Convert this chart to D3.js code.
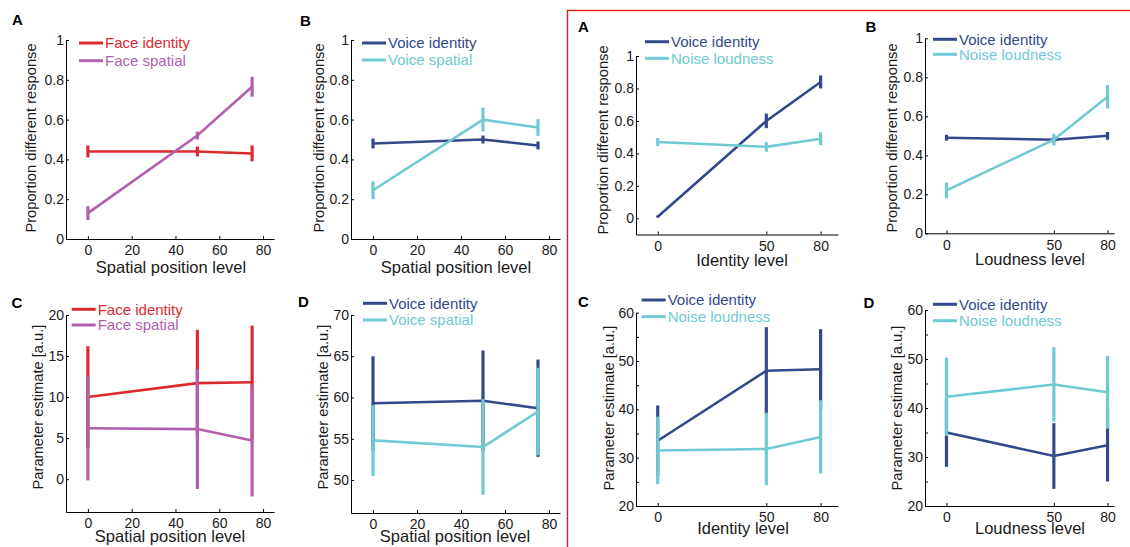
<!DOCTYPE html>
<html>
<head>
<meta charset="utf-8">
<script src="https://cdn.jsdelivr.net/npm/d3@7"></script>
<style>
  body { margin: 0; background: #fff; }
  svg { display: block; font-family: "Liberation Sans", Arial, sans-serif; }
</style>
</head>
<body>
<svg id="chart" width="1130" height="547"></svg>
<script>
// x levels
const spatialLevels = [0, 50, 75]
const spatialTicks = [0, 20, 40, 60, 80]
const stimLevels = [0, 50, 75] // plotted positions of the three levels
const stimTickLabels = ['0', '50', '80']
const propTicks = [0, 0.2, 0.4, 0.6, 0.8, 1]

// left A: faces, proportion "different"
const faceIdentityProp = [0.44, 0.44, 0.43]
const faceIdentityPropErr = [0.03, 0.025, 0.04]
const faceSpatialProp = [0.13, 0.52, 0.765]
const faceSpatialPropErr = [0.035, 0.02, 0.05]

// left B: voices, proportion "different"
const voiceIdentityProp = [0.48, 0.50, 0.47]
const voiceIdentityPropErr = [0.025, 0.02, 0.02]
const voiceSpatialProp = [0.245, 0.60, 0.56]
const voiceSpatialPropErr = [0.045, 0.06, 0.042]

// left C: faces, parameter estimates
const faceIdentityPE = [10.0, 11.7, 11.8]
const faceIdentityPEErr = [6.2, 6.5, 6.9]
const faceSpatialPE = [6.2, 6.1, 4.7]
const faceSpatialPEErr = [6.35, 7.3, 6.8]

// left D: voices, parameter estimates
const voiceIdentityPE = [59.3, 59.6, 58.7]
const voiceIdentityPEErr = [5.7, 6.1, 5.9]
const voiceSpatialPE = [54.8, 54.0, 58.3]
const voiceSpatialPEErr = [4.3, 5.8, 5.3]

// right A: identity levels
const idVoiceProp = [0.01, 0.60, 0.84]
const idVoicePropErr = [0.006, 0.045, 0.04]
const idNoiseProp = [0.47, 0.44, 0.49]
const idNoisePropErr = [0.025, 0.03, 0.04]

// right B: loudness levels
const loudVoiceProp = [0.49, 0.48, 0.50]
const loudVoicePropErr = [0.015, 0.015, 0.02]
const loudNoiseProp = [0.22, 0.48, 0.70]
const loudNoisePropErr = [0.04, 0.03, 0.06]

// right C: identity levels, parameter estimates
const idVoicePE = [33.5, 48.0, 48.3]
const idVoicePEErr = [7.3, 9.0, 8.3]
const idNoisePE = [31.5, 31.8, 34.3]
const idNoisePEErr = [7.0, 7.5, 7.6]

// right D: loudness levels, parameter estimates
const loudVoicePE = [35.0, 30.2, 32.4]
const loudVoicePEErr = [7.0, 6.7, 7.4]
const loudNoisePE = [42.3, 44.8, 43.2]
const loudNoisePEErr = [8.0, 7.6, 7.4]

const RED = '#dc2b30'
const PURPLE = '#b25fae'
const NAVY = '#34498b'
const CYAN = '#6fcad2'

const spatialX = { xDomain: [-10, 85], xTicks: spatialTicks, xFmt: d => d, xLabel: 'Spatial position level' }
const idX = { xDomain: [-10, 83], xTicks: stimLevels, xFmt: (d, i) => stimTickLabels[i], xLabel: 'Identity level' }
const loudX = { xDomain: [-10, 78], xTicks: stimLevels, xFmt: (d, i) => stimTickLabels[i], xLabel: 'Loudness level' }
const propY = { yTicks: propTicks, yLabel: 'Proportion different response' }
const peY = { yLabel: 'Parameter estimate [a.u.]' }

const ser = (name, color, x, y, err) => ({ name, color, x, y, err })

const panels = [
  {
    ...spatialX, ...propY, letter: 'A', letterPos: [12, 25],
    xRange: [66, 274], yRange: [239, 40], yDomain: [0, 1],
    xLabelPos: [171, 272.5], yLabelPos: [31, 138], legend: [79, 43, 17.7],
    series: [
      ser('Face identity', RED, spatialLevels, faceIdentityProp, faceIdentityPropErr),
      ser('Face spatial', PURPLE, spatialLevels, faceSpatialProp, faceSpatialPropErr)
    ]
  },
  {
    ...spatialX, ...propY, letter: 'B', letterPos: [300, 26],
    xRange: [351, 560], yRange: [239, 40], yDomain: [0, 1],
    xLabelPos: [456, 272.5], yLabelPos: [319, 138], legend: [362, 43, 17],
    series: [
      ser('Voice identity', NAVY, spatialLevels, voiceIdentityProp, voiceIdentityPropErr),
      ser('Voice spatial', CYAN, spatialLevels, voiceSpatialProp, voiceSpatialPropErr)
    ]
  },
  {
    ...idX, ...propY, letter: 'A', letterPos: [578, 31.5],
    xRange: [636, 838], yRange: [234.5, 56], yDomain: [-0.1, 1],
    xLabelPos: [742, 266], yLabelPos: [603, 140], legend: [645, 41.7, 16.6],
    series: [
      ser('Voice identity', NAVY, stimLevels, idVoiceProp, idVoicePropErr),
      ser('Noise loudness', CYAN, stimLevels, idNoiseProp, idNoisePropErr)
    ]
  },
  {
    ...loudX, ...propY, letter: 'B', letterPos: [865.5, 31.5],
    xRange: [925, 1114], yRange: [233.3, 38.3], yDomain: [0, 1],
    xLabelPos: [1030, 265], yLabelPos: [892, 138], legend: [933, 39.3, 15],
    series: [
      ser('Voice identity', NAVY, stimLevels, loudVoiceProp, loudVoicePropErr),
      ser('Noise loudness', CYAN, stimLevels, loudNoiseProp, loudNoisePropErr)
    ]
  },
  {
    ...spatialX, ...peY, letter: 'C', letterPos: [11.5, 308],
    xRange: [66, 274], yRange: [512, 315], yDomain: [-4, 20], yTicks: [0, 5, 10, 15, 20],
    xLabelPos: [170, 542], yLabelPos: [37.5, 407], legend: [71.7, 309.3, 15.7],
    series: [
      ser('Face identity', RED, spatialLevels, faceIdentityPE, faceIdentityPEErr),
      ser('Face spatial', PURPLE, spatialLevels, faceSpatialPE, faceSpatialPEErr)
    ]
  },
  {
    ...spatialX, ...peY, letter: 'D', letterPos: [298, 307],
    xRange: [351, 560], yRange: [513, 315], yDomain: [46, 70], yTicks: [50, 55, 60, 65, 70],
    xLabelPos: [455, 542], yLabelPos: [322.7, 407], legend: [363, 303.3, 16.7],
    series: [
      ser('Voice identity', NAVY, spatialLevels, voiceIdentityPE, voiceIdentityPEErr),
      ser('Voice spatial', CYAN, spatialLevels, voiceSpatialPE, voiceSpatialPEErr)
    ]
  },
  {
    ...idX, ...peY, letter: 'C', letterPos: [578, 307],
    xRange: [636, 838], yRange: [506, 312.7], yDomain: [20, 60], yTicks: [20, 30, 40, 50, 60],
    minorTicks: [25, 35, 45, 55],
    xLabelPos: [743, 533.5], yLabelPos: [608.7, 408], legend: [641.7, 300, 16.7],
    series: [
      ser('Voice identity', NAVY, stimLevels, idVoicePE, idVoicePEErr),
      ser('Noise loudness', CYAN, stimLevels, idNoisePE, idNoisePEErr)
    ]
  },
  {
    ...loudX, ...peY, letter: 'D', letterPos: [863.5, 308],
    xRange: [925, 1114], yRange: [506, 310], yDomain: [20, 60], yTicks: [20, 30, 40, 50, 60],
    minorTicks: [25, 35, 45, 55],
    xLabelPos: [1030, 534], yLabelPos: [897, 408], legend: [933, 304.3, 16.4],
    series: [
      ser('Voice identity', NAVY, stimLevels, loudVoicePE, loudVoicePEErr),
      ser('Noise loudness', CYAN, stimLevels, loudNoisePE, loudNoisePEErr)
    ]
  }
]

const svg = d3.select('#chart')

svg.append('rect')
  .attr('width', 1130).attr('height', 547)
  .attr('fill', '#fff')

// red frame round the right half
svg.append('rect')
  .attr('x', 567.5).attr('y', 10.5)
  .attr('width', 700).attr('height', 700)
  .attr('fill', 'none')
  .attr('stroke', '#f01818')
  .attr('stroke-width', 1.4)

const styleAxis = g => {
  g.select('.domain').attr('stroke', '#000').attr('stroke-width', 1)
  g.selectAll('.tick line').attr('stroke', '#000')
  g.selectAll('.tick text').attr('fill', '#1a1a1a').attr('font-size', 14)
}

function drawPanel (p) {
  const x = d3.scaleLinear().domain(p.xDomain).range(p.xRange)
  const y = d3.scaleLinear().domain(p.yDomain).range(p.yRange)
  const g = svg.append('g').attr('class', 'panel')

  // axes (MATLAB style: inward ticks, no box)
  g.append('g')
    .attr('transform', `translate(0, ${p.yRange[0]})`)
    .call(d3.axisBottom(x).tickValues(p.xTicks).tickFormat(p.xFmt)
      .tickSizeInner(-3).tickSizeOuter(0).tickPadding(6.5))
    .call(styleAxis)

  g.append('g')
    .attr('transform', `translate(${p.xRange[0]}, 0)`)
    .call(d3.axisLeft(y).tickValues(p.yTicks).tickFormat(d => String(+d.toFixed(2)))
      .tickSizeInner(-3).tickSizeOuter(0).tickPadding(2))
    .call(styleAxis)

  if (p.minorTicks) {
    g.append('g')
      .attr('transform', `translate(${p.xRange[0]}, 0)`)
      .call(d3.axisLeft(y).tickValues(p.minorTicks).tickFormat('')
        .tickSizeInner(-3).tickSizeOuter(0))
      .call(a => a.select('.domain').remove())
      .call(a => a.selectAll('.tick line').attr('stroke', '#000'))
  }

  // labels
  g.append('text')
    .attr('x', p.xLabelPos[0]).attr('y', p.xLabelPos[1])
    .attr('text-anchor', 'middle')
    .attr('font-size', 16.5)
    .attr('fill', '#1a1a1a')
    .text(p.xLabel)

  g.append('text')
    .attr('transform', `translate(${p.yLabelPos[0]}, ${p.yLabelPos[1]}) rotate(-90)`)
    .attr('dy', '0.35em')
    .attr('text-anchor', 'middle')
    .attr('font-size', 14.7)
    .attr('fill', '#1a1a1a')
    .text(p.yLabel)

  g.append('text')
    .attr('x', p.letterPos[0]).attr('y', p.letterPos[1])
    .attr('font-size', 15)
    .attr('font-weight', 'bold')
    .attr('fill', '#000')
    .text(p.letter)

  // series: line + vertical error bars, second series on top
  const line = d3.line().x(d => x(d.x)).y(d => y(d.y))
  p.series.forEach(s => {
    const pts = s.x.map((xv, i) => ({ x: xv, y: s.y[i], e: s.err[i] }))
    const sg = g.append('g').attr('class', 'series')
    sg.append('path')
      .attr('d', line(pts))
      .attr('fill', 'none')
      .attr('stroke', s.color)
      .attr('stroke-width', 2.6)
    sg.selectAll('line.err')
      .data(pts)
      .join('line')
      .attr('class', 'err')
      .attr('x1', d => x(d.x)).attr('x2', d => x(d.x))
      .attr('y1', d => y(d.y - d.e)).attr('y2', d => y(d.y + d.e))
      .attr('stroke', s.color)
      .attr('stroke-width', 3.2)
  })

  // legend
  const [lx, ly, gap] = p.legend
  const lg = g.append('g').attr('class', 'legend')
  p.series.forEach((s, i) => {
    lg.append('line')
      .attr('x1', lx).attr('x2', lx + 24)
      .attr('y1', ly + i * gap).attr('y2', ly + i * gap)
      .attr('stroke', s.color)
      .attr('stroke-width', 3)
    lg.append('text')
      .attr('x', lx + 26).attr('y', ly + i * gap)
      .attr('dy', '0.35em')
      .attr('font-size', 15)
      .attr('fill', s.color)
      .text(s.name)
  })
}

panels.forEach(drawPanel)
</script>
</body>
</html>
